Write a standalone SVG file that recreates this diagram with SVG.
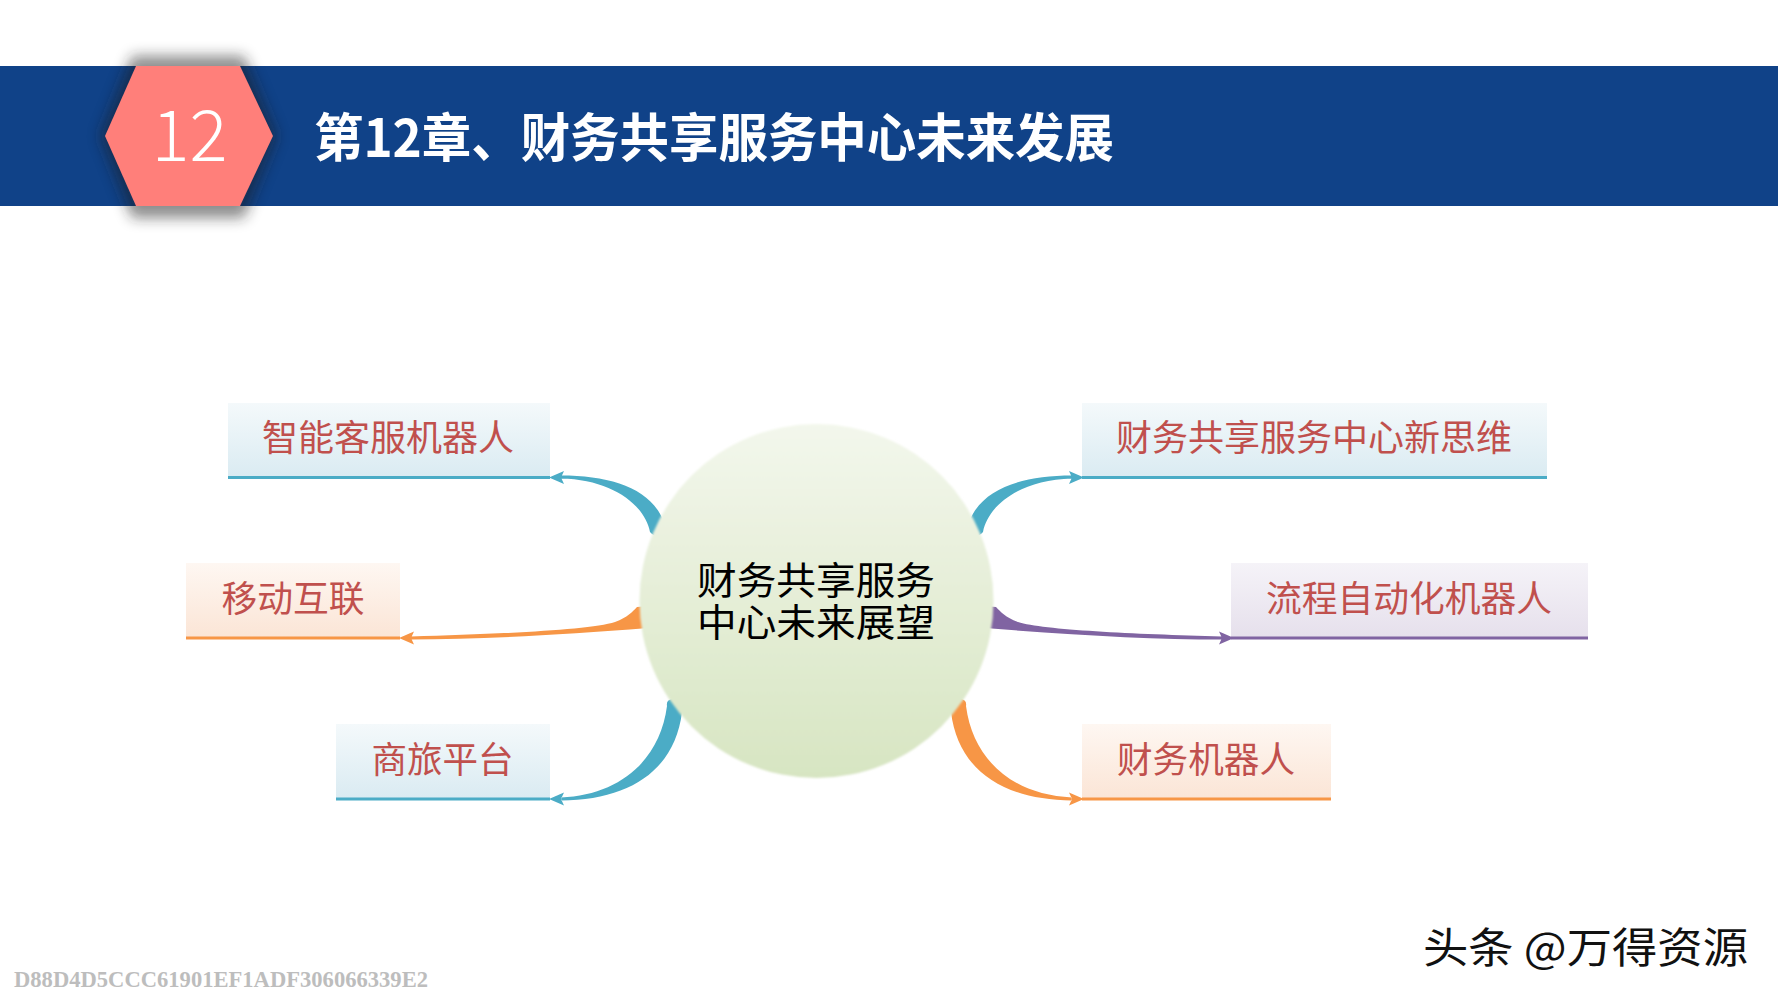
<svg xmlns="http://www.w3.org/2000/svg" width="1778" height="1000" viewBox="0 0 1778 1000">
<defs>
<style>
.ntext{font-family:"Noto Sans CJK SC","Noto Sans",sans-serif;font-size:36px;fill:#C0504D;text-anchor:middle}
.teal{fill:#4BACC6}
.orange{fill:#F79646}
.purple{fill:#8064A2}
</style>
<linearGradient id="gBlue" x1="0" y1="0" x2="0" y2="1"><stop offset="0" stop-color="#F4F9FB"/><stop offset="1" stop-color="#DAEBF2"/></linearGradient>
<linearGradient id="gOrange" x1="0" y1="0" x2="0" y2="1"><stop offset="0" stop-color="#FEF7F2"/><stop offset="1" stop-color="#FBE5D6"/></linearGradient>
<linearGradient id="gPurple" x1="0" y1="0" x2="0" y2="1"><stop offset="0" stop-color="#F5F3F8"/><stop offset="1" stop-color="#E6E0EC"/></linearGradient>
<linearGradient id="gCircle" x1="0" y1="0" x2="0" y2="1"><stop offset="0" stop-color="#F3F7EC"/><stop offset="1" stop-color="#D7E5C2"/></linearGradient>
<filter id="blur" x="-30%" y="-30%" width="160%" height="160%"><feGaussianBlur stdDeviation="7"/></filter>
<filter id="soft" x="-10%" y="-10%" width="120%" height="120%"><feGaussianBlur stdDeviation="1"/></filter>
<path id="cTop" d="M561,475.5 C610,475.5 650,488 663,520 L664,532 Q657,540 650,532 C645,505 612,479.5 561,478.5 Z M549,477.5 L564,471 L561,477.5 L564,484 Z"/>
<path id="cMid" d="M411,636.5 C500,634 590,630 615,622 C628,617 632,612 637,607 L648,606 L648,628 C560,635 480,639.5 411,639.5 Z M399,638 L414,631.5 L411,638 L414,644.5 Z"/>
<path id="cBot" d="M561,800.5 C630,800 675,770 682,712 Q681,698 672,699 Q666,700 667,706 C660,760 620,795 561,797.5 Z M549,799 L564,792.5 L561,799 L564,805.5 Z"/>
</defs>
<rect x="0" y="0" width="1778" height="1000" fill="#FFFFFF"/>
<g id="header">
<rect x="0" y="66" width="1778" height="140" fill="#104288"/>
<polygon points="100,136 132,56 244,56 277,136 244,218 132,218" fill="#1a1a1a" opacity="0.5" filter="url(#blur)"/>
<polygon points="105,136 136,66 240,66 273,136 240,206 136,206" fill="#FF7F7A"/>
<text x="189.5" y="161" font-family="'Noto Sans CJK SC','Noto Sans',sans-serif" font-weight="300" font-size="71" fill="#FFFFFF" text-anchor="middle">12</text>
<text x="314" y="157" font-family="'Noto Sans CJK SC','Noto Sans',sans-serif" font-weight="700" font-size="52" fill="#FFFFFF" textLength="800" lengthAdjust="spacingAndGlyphs">第12章、财务共享服务中心未来发展</text>
</g>
<g id="connectors">
<use href="#cTop" class="teal"/>
<use href="#cMid" class="orange"/>
<use href="#cBot" class="teal"/>
<g transform="translate(1633,0) scale(-1,1)">
<use href="#cTop" class="teal"/>
<use href="#cMid" class="purple"/>
<use href="#cBot" class="orange"/>
</g>
</g>
<g id="center">
<circle cx="816.5" cy="601" r="177" fill="url(#gCircle)" filter="url(#soft)"/>
<text font-family="'Noto Sans CJK SC','Noto Sans',sans-serif" font-size="38" fill="#000000" text-anchor="middle"><tspan x="816" y="594" textLength="238" lengthAdjust="spacingAndGlyphs">财务共享服务</tspan><tspan x="816" y="636" textLength="238" lengthAdjust="spacingAndGlyphs">中心未来展望</tspan></text>
</g>
<g id="node-zhineng">
<rect x="228" y="403" width="322" height="74" fill="url(#gBlue)"/>
<rect x="228" y="476" width="322" height="3" class="teal"/>
<text class="ntext" x="388" y="451" textLength="252" lengthAdjust="spacingAndGlyphs">智能客服机器人</text>
</g>
<g id="node-yidong">
<rect x="186" y="563" width="214" height="74" fill="url(#gOrange)"/>
<rect x="186" y="636.5" width="214" height="3" class="orange"/>
<text class="ntext" x="293" y="612" textLength="143" lengthAdjust="spacingAndGlyphs">移动互联</text>
</g>
<g id="node-shanglv">
<rect x="336" y="724" width="214" height="74" fill="url(#gBlue)"/>
<rect x="336" y="797.5" width="214" height="3" class="teal"/>
<text class="ntext" x="442.5" y="773" textLength="142" lengthAdjust="spacingAndGlyphs">商旅平台</text>
</g>
<g id="node-xinsiwei">
<rect x="1082" y="403" width="465" height="74" fill="url(#gBlue)"/>
<rect x="1082" y="476" width="465" height="3" class="teal"/>
<text class="ntext" x="1314" y="451" textLength="396" lengthAdjust="spacingAndGlyphs">财务共享服务中心新思维</text>
</g>
<g id="node-liucheng">
<rect x="1231" y="563" width="357" height="74" fill="url(#gPurple)"/>
<rect x="1231" y="636.5" width="357" height="3" class="purple"/>
<text class="ntext" x="1409" y="612" textLength="286" lengthAdjust="spacingAndGlyphs">流程自动化机器人</text>
</g>
<g id="node-caiwujiqiren">
<rect x="1082" y="724" width="249" height="74" fill="url(#gOrange)"/>
<rect x="1082" y="797.5" width="249" height="3" class="orange"/>
<text class="ntext" x="1206" y="773" textLength="178" lengthAdjust="spacingAndGlyphs">财务机器人</text>
</g>
<g id="watermarks">
<text x="14" y="987" font-family="'Liberation Serif',serif" font-weight="700" font-size="23" fill="#BDBDBD" textLength="414" lengthAdjust="spacingAndGlyphs">D88D4D5CCC61901EF1ADF306066339E2</text>
<text x="1423" y="963" font-family="'Noto Sans CJK SC','Noto Sans',sans-serif" font-size="42" fill="#111111" textLength="325" lengthAdjust="spacingAndGlyphs">头条 @万得资源</text>
</g>
</svg>
